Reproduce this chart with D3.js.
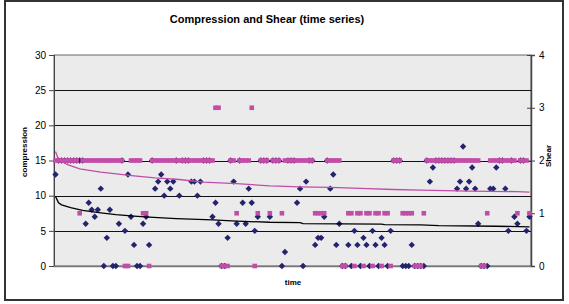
<!DOCTYPE html>
<html>
<head>
<meta charset="utf-8">
<script src="https://cdn.jsdelivr.net/npm/d3@7"></script>
<style>
  body { margin: 0; background: #fff; }
  text { font-family: 'Liberation Sans', Arial, sans-serif; fill: #000; }
</style>
</head>
<body>
<div id="target"></div>
<script>
const width = 569;
const height = 304;

// compression readings (left axis), one per time step
const compression = [
  13, 15, 15, 15, 15, 15, 15, 15, 15, 15,
  6, 9, 8, 7, 8, 11, 0, 4, 8, 0,
  0, 6, 15, 5, 13, 7, 3, 0, 0, 6,
  7, 3, 15, 11, 12, 13, 10, 12, 11, 12,
  15, 10, 15, 15, 15, 12, 12, 10, 12, 15,
  15, 15, 7, 9, 6, 0, 0, 4, 15, 12,
  6, 15, 9, 6, 11, 9, 5, 7, 15, 15,
  15, 7, 15, 15, 15, 0, 2, 15, 15, 15,
  9, 11, 0, 12, 15, 15, 3, 4, 4, 7,
  15, 11, 13, 3, 6, 0, 0, 3, 0, 5,
  3, 0, 4, 3, 0, 5, 3, 0, 4, 3,
  0, 5, 15, 15, 15, 0, 0, 0, 3, 0,
  0, 0, 0, 15, 12, 14, 15, 15, 15, 15,
  15, 15, 15, 11, 12, 17, 11, 12, 14, 11,
  6, 0, 0, 0, 11, 11, 14, 15, 15, 11,
  5, 15, 7, 6, 15, 15, 5, 7,
];

// shear readings (right axis), one per time step
const shear = [
  2, 2, 2, 2, 2, 2, 2, 2, 1, 2,
  2, 2, 2, 2, 2, 2, 2, 2, 2, 2,
  2, 2, 2, 0, 0, 2, 2, 2, 2, 1,
  1, 0, 2, 2, 2, 2, 2, 2, 2, 2,
  2, 2, 2, 2, 2, 2, 2, 2, 2, 2,
  2, 2, 2, 3, 3, 0, 0, 0, 2, 2,
  1, 2, 2, 2, 2, 3, 0, 1, 2, 2,
  2, 1, 2, 2, 2, 1, 2, 2, 2, 2,
  2, 2, 2, 2, 2, 2, 1, 1, 1, 1,
  2, 2, 2, 2, 2, 0, 0, 1, 1, 0,
  1, 1, 0, 1, 1, 0, 1, 1, 0, 1,
  1, 0, 2, 2, 2, 1, 1, 1, 1, 0,
  0, 0, 1, 2, 2, 2, 2, 2, 2, 2,
  2, 2, 2, 2, 2, 2, 2, 2, 2, 2,
  2, 0, 0, 1, 2, 2, 2, 2, 2, 2,
  2, 2, 2, 1, 2, 2, 2, 1,
];

// trend curves
const compTrendT = [0, 1, 2, 5, 9, 15, 20, 26, 31, 40, 52, 60, 71, 81, 82, 108, 109, 121, 127, 146, 157];
const compTrend = [9.9, 9.0, 8.7, 8.3, 7.9, 7.55, 7.3, 7.1, 6.95, 6.75, 6.55, 6.38, 6.22, 6.18, 6.03, 5.95, 5.88, 5.86, 5.75, 5.65, 5.57];
const shearTrendT = [0, 1, 4, 8, 15, 26, 33, 41, 49, 60, 71, 81, 91, 101, 112, 121, 137, 153, 157];
const shearTrend = [2.17, 2.02, 1.92, 1.84, 1.78, 1.71, 1.67, 1.64, 1.59, 1.56, 1.52, 1.5, 1.49, 1.47, 1.45, 1.44, 1.42, 1.41, 1.4];

const compTicks = [0, 5, 10, 15, 20, 25, 30];
const shearTicks = [0, 1, 2, 3, 4];

const plot = { left: 54, right: 531, top: 55, bottom: 266 };

const svg = d3.select('#target').append('svg').attr('width', width).attr('height', height);

const x = d3.scaleLinear().domain([-0.5, compression.length - 0.5]).range([plot.left, plot.right]);
const yLeft = d3.scaleLinear().domain([0, 30]).range([plot.bottom, plot.top]);
const yRight = d3.scaleLinear().domain([0, 4]).range([plot.bottom, plot.top]);

// chart frame
svg
  .append('rect')
  .attr('x', 5)
  .attr('y', 1)
  .attr('width', 558)
  .attr('height', 299)
  .attr('fill', '#fff')
  .attr('stroke', '#333')
  .attr('stroke-width', 2);

// plot area
svg
  .append('rect')
  .attr('x', plot.left)
  .attr('y', plot.top)
  .attr('width', plot.right - plot.left)
  .attr('height', plot.bottom - plot.top)
  .attr('fill', '#ebebeb')
  .attr('stroke', '#666')
  .attr('stroke-width', 1);

svg
  .append('g')
  .selectAll('line')
  .data(compTicks.slice(1, -1))
  .enter()
  .append('line')
  .attr('x1', plot.left)
  .attr('x2', plot.right)
  .attr('y1', function (d) {
    return Math.round(yLeft(d)) + 0.5;
  })
  .attr('y2', function (d) {
    return Math.round(yLeft(d)) + 0.5;
  })
  .attr('stroke', '#111')
  .attr('stroke-width', 1);

// left axis
const leftAxis = svg
  .append('g')
  .attr('transform', `translate(${plot.left},0)`)
  .call(d3.axisLeft(yLeft).tickValues(compTicks).tickSize(5).tickPadding(3));
leftAxis.select('.domain').attr('stroke', '#444');
leftAxis.selectAll('.tick line').attr('stroke', '#444');
leftAxis.selectAll('text').style('font-size', '10px').attr('fill', '#222');

// right axis, ticks cross the line
const rightAxis = svg
  .append('g')
  .attr('transform', `translate(${plot.right},0)`)
  .call(d3.axisRight(yRight).tickValues(shearTicks).tickFormat(d3.format('d')).tickSize(4).tickPadding(4));
rightAxis.select('.domain').attr('stroke', '#444').attr('stroke-width', 1.5);
rightAxis.selectAll('.tick line').attr('x1', -4).attr('stroke', '#444');
rightAxis.selectAll('text').style('font-size', '10px').attr('fill', '#222');

// bottom axis line
svg
  .append('line')
  .attr('x1', plot.left)
  .attr('x2', plot.right)
  .attr('y1', plot.bottom + 0.5)
  .attr('y2', plot.bottom + 0.5)
  .attr('stroke', '#777')
  .attr('stroke-width', 1.5);

// compression points (diamonds)
svg
  .append('g')
  .selectAll('path')
  .data(compression)
  .enter()
  .append('path')
  .attr('d', 'M0,-3.2L3.2,0L0,3.2L-3.2,0Z')
  .attr('transform', function (d, i) {
    return `translate(${x(i)},${yLeft(d)})`;
  })
  .attr('fill', '#24246e');

// shear points (squares)
svg
  .append('g')
  .selectAll('rect')
  .data(shear)
  .enter()
  .append('rect')
  .attr('x', function (d, i) {
    return x(i) - 2.3;
  })
  .attr('y', function (d) {
    return yRight(d) - 2.3;
  })
  .attr('width', 4.6)
  .attr('height', 4.6)
  .attr('fill', '#c24da8');

// trend lines
const compLine = d3
  .line()
  .x(function (d) {
    return x(d[0]);
  })
  .y(function (d) {
    return yLeft(d[1]);
  });
const shearLine = d3
  .line()
  .x(function (d) {
    return x(d[0]);
  })
  .y(function (d) {
    return yRight(d[1]);
  });

svg
  .append('path')
  .attr('d', shearLine(d3.zip(shearTrendT, shearTrend)))
  .attr('fill', 'none')
  .attr('stroke', '#c24da8')
  .attr('stroke-width', 1.3);

svg
  .append('path')
  .attr('d', compLine(d3.zip(compTrendT, compTrend)))
  .attr('fill', 'none')
  .attr('stroke', '#000')
  .attr('stroke-width', 1.3);

// titles
svg
  .append('text')
  .attr('x', 267)
  .attr('y', 23)
  .attr('text-anchor', 'middle')
  .style('font-size', '11px')
  .style('font-weight', 'bold')
  .text('Compression and Shear (time series)');

svg
  .append('text')
  .attr('transform', 'translate(27,152) rotate(-90)')
  .attr('text-anchor', 'middle')
  .style('font-size', '8px')
  .style('font-weight', 'bold')
  .text('compression');

svg
  .append('text')
  .attr('transform', 'translate(551,156) rotate(-90)')
  .attr('text-anchor', 'middle')
  .style('font-size', '8px')
  .style('font-weight', 'bold')
  .text('Shear');

svg
  .append('text')
  .attr('x', 293)
  .attr('y', 285)
  .attr('text-anchor', 'middle')
  .style('font-size', '8px')
  .style('font-weight', 'bold')
  .text('time');
</script>
</body>
</html>
